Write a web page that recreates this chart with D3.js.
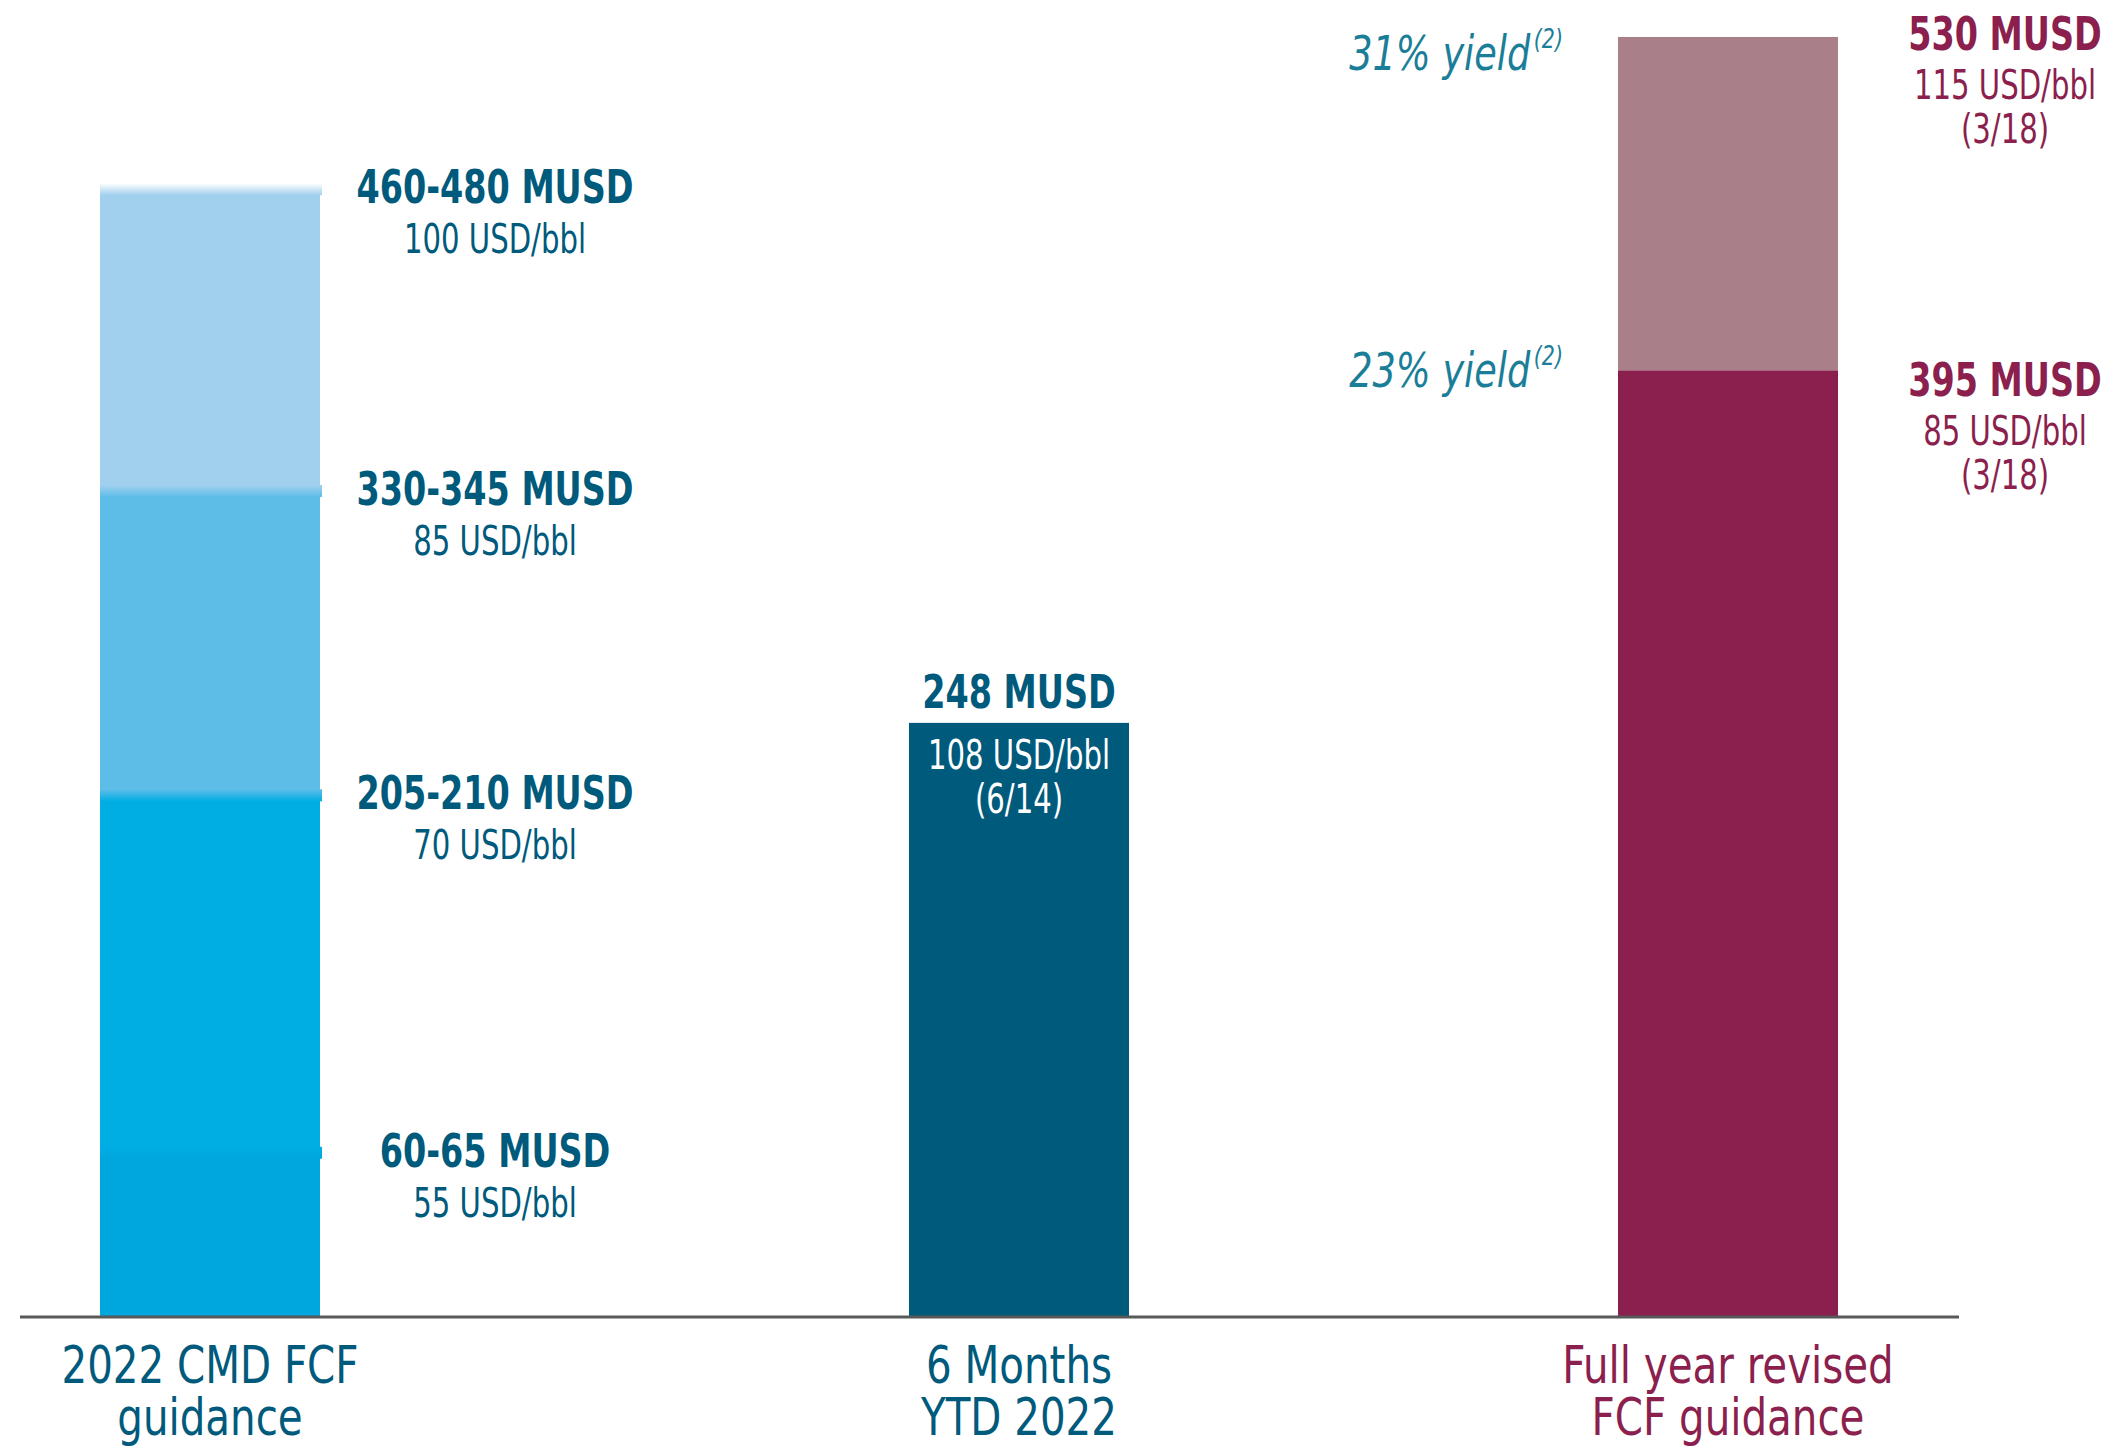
<!DOCTYPE html>
<html>
<head>
<meta charset="utf-8">
<script src="https://cdn.jsdelivr.net/npm/d3@7"></script>
<style>
  body { margin: 0; background: #fff; }
  svg { display: block; font-family: "DejaVu Sans Condensed", "Liberation Sans Narrow", Roboto, sans-serif; }
</style>
</head>
<body>
<div id="chart"></div>
<script>
// categories along the axis
const categories = ["cmd", "ytd", "revised"];
const categoryLines = [
  ["2022 CMD FCF", "guidance"],
  ["6 Months", "YTD 2022"],
  ["Full year revised", "FCF guidance"]
];

// 2022 CMD guidance, stacked levels (bottom to top), as drawn
const cmdLevels = [68, 216, 342, 467];
const cmdLabels = ["60-65 MUSD", "205-210 MUSD", "330-345 MUSD", "460-480 MUSD"];
const cmdPrices = ["55 USD/bbl", "70 USD/bbl", "85 USD/bbl", "100 USD/bbl"];
const cmdColors = ["#00a7df", "#00aee4", "#5dbde7", "#a1d0ee"];

// 6 months YTD
const ytdValue = 246;
const ytdLabel = "248 MUSD";
const ytdPrice = ["108 USD/bbl", "(6/14)"];

// revised full year guidance, two levels
const revisedLevels = [392, 530];
const revisedLabels = ["395 MUSD", "530 MUSD"];
const revisedPrices = [["85 USD/bbl", "(3/18)"], ["115 USD/bbl", "(3/18)"]];
const revisedYields = ["23% yield", "31% yield"];
const revisedColors = ["#8b1f4d", "#a9808a"];

const blue = "#005a7c";
const maroon = "#8b1f4d";
const teal = "#1b7e98";

const width = 2118, height = 1446;
const baseY = 1317;
const barW = 220;

// text styles: size, weight, horizontal squeeze (condensed look)
const boldStyle = { size: 47, weight: "bold", sx: 0.79 };
const priceStyle = { size: 40, weight: "normal", sx: 0.81 };
const catStyle = { size: 51, weight: "normal", sx: 0.88 };

const svg = d3.select("#chart").append("svg")
  .attr("width", width)
  .attr("height", height);

svg.append("rect").attr("width", width).attr("height", height).attr("fill", "#fff");

const x = d3.scaleOrdinal().domain(categories).range([210, 1019, 1728]);
const y = d3.scaleLinear().domain([0, 530]).range([baseY, 37]);

function label(parent, tx, ty, str, style, fill, anchor = "middle") {
  return parent.append("text")
    .attr("transform", `translate(${tx},${ty}) scale(${style.sx},1)`)
    .attr("text-anchor", anchor)
    .attr("font-size", style.size)
    .attr("font-weight", style.weight)
    .attr("fill", fill)
    .text(str);
}

const defs = svg.append("defs");
function fadeGrad(id, from, to) {
  const g = defs.append("linearGradient").attr("id", id)
    .attr("x1", 0).attr("y1", 0).attr("x2", 0).attr("y2", 1);
  g.append("stop").attr("offset", "0%").attr("stop-color", from);
  g.append("stop").attr("offset", "100%").attr("stop-color", to);
}

// ---- CMD stacked bar
const cmd = cmdLevels.map((v, i) => ({
  top: v, bottom: i ? cmdLevels[i - 1] : 0,
  color: cmdColors[i], above: i === cmdLevels.length - 1 ? "#ffffff" : cmdColors[i + 1],
  label: cmdLabels[i], price: cmdPrices[i], i
}));

const cx0 = x("cmd");
svg.append("g").selectAll("rect")
  .data(cmd)
  .join("rect")
  .attr("x", cx0 - barW / 2)
  .attr("width", barW)
  .attr("y", d => y(d.top))
  .attr("height", d => y(d.bottom) - y(d.top))
  .attr("fill", d => d.color);

// soft transitions at the top of each segment
cmd.forEach(d => fadeGrad("fade" + d.i, d.above, d.color));
svg.append("g").selectAll("rect")
  .data(cmd)
  .join("rect")
  .attr("x", cx0 - barW / 2)
  .attr("width", barW + 2)
  .attr("y", d => y(d.top) - 6)
  .attr("height", 12)
  .attr("fill", d => `url(#fade${d.i})`);

const cmdText = svg.append("g");
const cmdLx = cx0 + barW / 2 + 175;
cmd.forEach(d => {
  const by = y(d.top) + 14;
  label(cmdText, cmdLx, by, d.label, boldStyle, blue);
  label(cmdText, cmdLx, by + 50, d.price, priceStyle, blue);
});

// ---- YTD bar
const cx1 = x("ytd");
svg.append("rect")
  .datum(ytdValue)
  .attr("x", cx1 - barW / 2)
  .attr("width", barW)
  .attr("y", d => y(d))
  .attr("height", d => baseY - y(d))
  .attr("fill", blue);

label(svg, cx1, y(ytdValue) - 15, ytdLabel, boldStyle, blue);
ytdPrice.forEach((p, i) => {
  label(svg, cx1, y(ytdValue) + 46 + i * 44, p, priceStyle, "#fff");
});

// ---- Revised bar
const cx2 = x("revised");
const rev = revisedLevels.map((v, i) => ({
  top: v, bottom: i ? revisedLevels[i - 1] : 0, color: revisedColors[i],
  label: revisedLabels[i], price: revisedPrices[i], yld: revisedYields[i], i
}));

svg.append("g").selectAll("rect")
  .data(rev)
  .join("rect")
  .attr("x", cx2 - barW / 2)
  .attr("width", barW)
  .attr("y", d => y(d.top))
  .attr("height", d => y(d.bottom) - y(d.top))
  .attr("fill", d => d.color);

const revLx = cx2 + barW / 2 + 167;
const revOffsets = [26, 13];
const yieldOffsets = [17, 33];
rev.forEach(d => {
  const by = y(d.top) + revOffsets[d.i];
  label(svg, revLx, by, d.label, boldStyle, maroon);
  d.price.forEach((p, j) => {
    label(svg, revLx, by + 49 + j * 44, p, priceStyle, maroon);
  });

  const yt = label(svg, cx2 - barW / 2 - 55, y(d.top) + yieldOffsets[d.i], null,
    { size: 48, weight: "normal", sx: 0.85 }, teal, "end")
    .attr("font-style", "italic");
  yt.append("tspan").text(d.yld);
  yt.append("tspan").attr("dx", 4).attr("dy", -22).attr("font-size", 27).text("(2)");
});

// ---- axis baseline
svg.append("line")
  .attr("x1", 20).attr("x2", 1959)
  .attr("y1", baseY).attr("y2", baseY)
  .attr("stroke", "#595959").attr("stroke-width", 3);

// ---- category labels
const catColors = [blue, blue, maroon];
const cats = svg.append("g");
categories.forEach((c, i) => {
  categoryLines[i].forEach((line, j) => {
    label(cats, x(c), baseY + 66 + j * 52, line, catStyle, catColors[i]);
  });
});
</script>
</body>
</html>
